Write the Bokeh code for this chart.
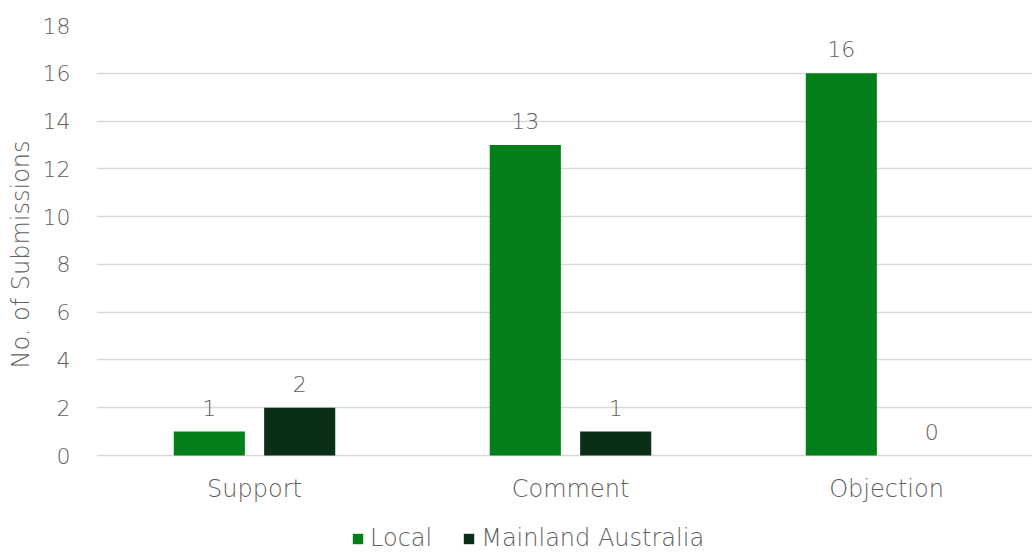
from bokeh.plotting import figure
from bokeh.models import ColumnDataSource, Range1d, FixedTicker, Legend, LegendItem, LabelSet, Title
from bokeh.core.properties import value
from bokeh.transform import dodge
from bokeh.embed import file_html
from bokeh.resources import INLINE

categories = ["Support", "Comment", "Objection"]
local = [1, 13, 16]
mainland = [2, 1, 0]
series_names = ["Local", "Mainland Australia"]
y_ticks = [0, 2, 4, 6, 8, 10, 12, 14, 16, 18]
y_title = "No. of Submissions"

FONT = "'DejaVu Sans Light', 'DejaVu Sans ExtraLight', 'Lato Light'"
TXT = "#606060"
GREEN = "#027f19"
DARK = "#0a2e16"

PX_PER_UNIT = 430 / 18.0
xpos = [i + 0.5 for i in range(len(categories))]
src = ColumnDataSource(dict(
    x=xpos, local=local, mainland=mainland, cat=categories, zero=[0] * len(categories),
    local_txt=[str(v) for v in local], mainland_txt=[str(v) for v in mainland],
))

p = figure(width=1032, height=552, output_backend="svg", toolbar_location=None,
           x_range=Range1d(0, (1032 - 96) / 316.0),
           y_range=Range1d(-97 / PX_PER_UNIT, 18),
           min_border_left=96, min_border_right=0, min_border_top=25, min_border_bottom=0)
p.outline_line_color = None
p.background_fill_color = "white"

off = 0.143
bw = 0.225
r1 = p.vbar(x=dodge("x", -off), top="local", width=bw, source=src,
            fill_color=GREEN, line_color=None)
r2 = p.vbar(x=dodge("x", off), top="mainland", width=bw, source=src,
            fill_color=DARK, line_color=None)

for col, o in (("local", -off), ("mainland", off)):
    lbl = LabelSet(x=dodge("x", o), y=col, text=col + "_txt", source=src,
                   text_align="center", text_baseline="bottom", y_offset=16,
                   text_font=value(FONT), text_font_size=value("22px"), text_color=TXT)
    p.add_layout(lbl)

cat_lbl = LabelSet(x="x", y="zero", text="cat", source=src, text_align="center",
                   text_baseline="top", y_offset=-19, text_font=value(FONT),
                   text_font_size=value("24px"), text_color=TXT)
p.add_layout(cat_lbl)

p.xaxis.visible = False
p.xgrid.grid_line_color = None
p.ygrid.grid_line_color = "#d9d9d9"
p.ygrid.grid_line_width = 1.5
p.yaxis.ticker = FixedTicker(ticks=y_ticks)
p.yaxis.axis_line_color = None
p.yaxis.major_tick_line_color = None
p.yaxis.minor_tick_line_color = None
p.yaxis.major_label_text_font = FONT
p.yaxis.major_label_text_font_size = "22px"
p.yaxis.major_label_text_color = TXT
p.yaxis.major_label_standoff = 20

ttl = Title(text=y_title, align="left", offset=184,
            text_font=FONT, text_font_size="24px", text_font_style="normal",
            text_color=TXT, standoff=9)
p.add_layout(ttl, "left")

legend = Legend(items=[LegendItem(label=series_names[0], renderers=[r1]),
                       LegendItem(label=series_names[1], renderers=[r2])],
                orientation="horizontal", location=(255, 0),
                label_text_font=FONT, label_text_font_size="24px", label_text_color=TXT,
                glyph_width=13, glyph_height=13, spacing=30, label_standoff=6,
                label_height=22, border_line_color=None, background_fill_alpha=0,
                margin=0, padding=0)
p.add_layout(legend, "center")

open("out.html", "w").write(file_html(p, INLINE))
